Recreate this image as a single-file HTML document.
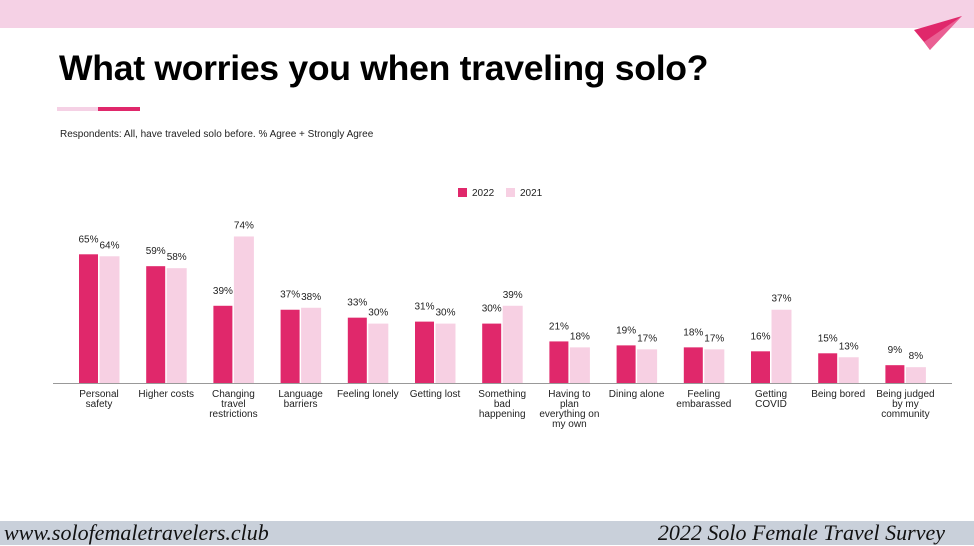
<!DOCTYPE html>
<html><head><style>
body{margin:0;width:974px;height:545px;overflow:hidden;background:#fff;font-family:"Liberation Sans",sans-serif;position:relative}
.top{position:absolute;left:0;top:0;width:974px;height:28px;background:#f5d1e5}
.foot{position:absolute;left:0;top:521px;width:974px;height:24px;background:#c9d0da;font-family:"Liberation Serif",serif;font-style:italic;font-size:22px;color:#111}
h1{position:absolute;left:59px;top:48px;margin:0;font-size:35.6px;font-weight:bold;letter-spacing:-0.3px}
.sub{position:absolute;left:60px;top:129px;font-size:10px;color:#222}
</style></head><body>
<div class="top"></div>
<svg style="position:absolute;left:910px;top:14px" width="56" height="38"><polygon points="52,2 4,16 14,28 20,36 26,24" fill="#e0286b"/><polygon points="52,2 14,28 20,36" fill="#ea5f93"/></svg>
<h1>What worries you when traveling solo?</h1>
<div style="position:absolute;left:57px;top:107px;width:41px;height:4px;background:#f5d1e5"></div>
<div style="position:absolute;left:98px;top:107px;width:42px;height:4px;background:#e0286b"></div>
<div class="sub">Respondents: All, have traveled solo before. % Agree + Strongly Agree</div>
<svg style="position:absolute;left:0;top:0" width="974" height="545" font-family="Liberation Sans, sans-serif" font-size="10" fill="#222">
<rect x="458" y="188" width="9" height="9" fill="#e0286b"/><text x="472" y="196">2022</text>
<rect x="506" y="188" width="9" height="9" fill="#f7d0e3"/><text x="520" y="196">2021</text>
<g id="bars"></g>
<line x1="53" y1="383.5" x2="952" y2="383.5" stroke="#999" stroke-width="1"/>
</svg>
<div class="foot"><span style="position:absolute;left:4px;top:-1px">www.solofemaletravelers.club</span><span style="position:absolute;right:29px;top:-1px">2022 Solo Female Travel Survey</span></div>
<script>
var d=[["Personal|safety",65,64],["Higher costs",59,58],["Changing|travel|restrictions",39,74],["Language|barriers",37,38],["Feeling lonely",33,30],["Getting lost",31,30],["Something|bad|happening",30,39],["Having to|plan|everything on|my own",21,18],["Dining alone",19,17],["Feeling|embarassed",18,17],["Getting|COVID",16,37],["Being bored",15,13],["Being judged|by my|community",9,8]];
var g=document.getElementById("bars"),s="",k=1.98;
d.forEach(function(r,i){var c=99+i*67.2;
var h1=r[1]*k,h2=r[2]*k;
s+='<rect x="'+(c-20)+'" y="'+(383-h1)+'" width="19" height="'+h1+'" fill="#e0286b"/>';
s+='<rect x="'+(c+0.5)+'" y="'+(383-h2)+'" width="20" height="'+h2+'" fill="#f7d0e3"/>';
s+='<text x="'+(c-10.5)+'" y="'+(383-h1-12)+'" text-anchor="middle">'+r[1]+'%</text>';
s+='<text x="'+(c+10.5)+'" y="'+(383-h2-8)+'" text-anchor="middle">'+r[2]+'%</text>';
r[0].split("|").forEach(function(t,j){s+='<text x="'+c+'" y="'+(397+j*10)+'" text-anchor="middle">'+t+'</text>';});
});
g.innerHTML=s;
</script>
</body></html>
